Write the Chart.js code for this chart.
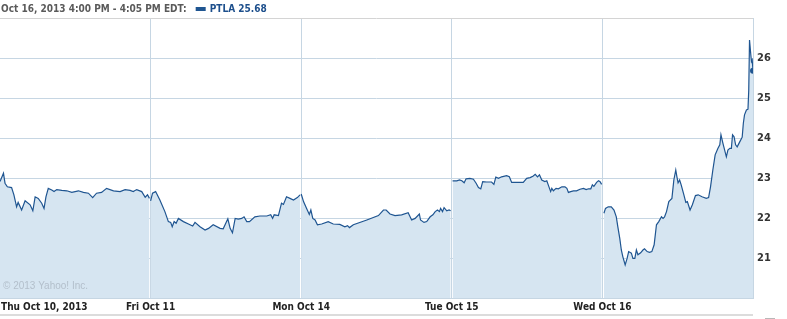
<!DOCTYPE html>
<html>
<head>
<meta charset="utf-8">
<script src="https://cdn.jsdelivr.net/npm/chart.js@4"></script>
<style>
  body { margin: 0; background: #fff; }
  canvas { display: block; }
</style>
</head>
<body>
<canvas id="quoteChart" width="787" height="319"></canvas>
<script>
// Day labels along the bottom, one trading session each (9:30 - 16:00 = 390 min)
const dayLabels = ['Thu Oct 10, 2013', 'Fri Oct 11', 'Mon Oct 14', 'Tue Oct 15', 'Wed Oct 16'];
const minutesPerDay = 390;
const yTicks = [21, 22, 23, 24, 25, 26];

// minutes since open, price
const thuMin = [0, 9, 13, 19, 30, 36, 43, 47, 56, 65, 78, 85, 91, 99, 108, 114, 119, 125, 134, 140,
  147, 160, 173, 186, 203, 216, 229, 240, 250, 263, 276, 294, 311, 324, 337, 345, 354, 367, 376, 382, 387];
const thuPrice = [22.91, 23.12, 22.87, 22.78, 22.76, 22.58, 22.28, 22.39, 22.2, 22.43, 22.33, 22.18, 22.53, 22.49, 22.37, 22.24, 22.53, 22.74, 22.7, 22.66,
  22.71, 22.69, 22.68, 22.64, 22.68, 22.64, 22.62, 22.51, 22.62, 22.64, 22.74, 22.68, 22.66, 22.71, 22.69, 22.66, 22.71, 22.66, 22.52, 22.58, 22.49];

const friMin = [0, 5, 13, 24, 37, 46, 52, 56, 61, 66, 72, 85, 98, 109, 115, 128, 141, 150, 162, 180,
  188, 200, 206, 212, 219, 227, 236, 242, 249, 256, 270, 283, 301, 311, 316, 320, 331, 339, 344, 352, 361, 370, 380, 387];
const friPrice = [22.43, 22.62, 22.66, 22.45, 22.16, 21.91, 21.89, 21.78, 21.91, 21.87, 21.99, 21.91, 21.85, 21.8, 21.89, 21.78, 21.7, 21.74, 21.83, 21.74,
  21.73, 21.98, 21.74, 21.63, 21.99, 21.97, 21.99, 22.03, 21.91, 21.91, 22.03, 22.05, 22.05, 22.08, 21.99, 22.08, 22.06, 22.37, 22.34, 22.53, 22.49, 22.45, 22.51, 22.58];

const monMin = [0, 6, 14, 21, 25, 30, 36, 42, 53, 70, 83, 100, 113, 120, 125, 135, 170, 200, 213, 220,
  230, 243, 260, 277, 286, 295, 306, 309, 318, 325, 334, 341, 347, 353, 358, 361, 366, 370, 377, 383, 387];
const monPrice = [22.6, 22.41, 22.24, 22.09, 22.2, 21.99, 21.95, 21.83, 21.85, 21.91, 21.85, 21.84, 21.78, 21.81, 21.76, 21.83, 21.95, 22.06, 22.2, 22.2,
  22.1, 22.06, 22.08, 22.13, 21.95, 21.99, 22.1, 21.95, 21.89, 21.91, 22.03, 22.08, 22.16, 22.2, 22.16, 22.24, 22.16, 22.26, 22.18, 22.2, 22.18];

const tueMin = [2, 13, 20, 26, 32, 37, 47, 56, 63, 69, 75, 80, 90, 103, 109, 114, 121, 129, 142, 149,
  155, 168, 185, 194, 203, 211, 216, 222, 227, 233, 241, 246, 253, 256, 259, 263, 270, 276, 285, 293,
  298, 302, 308, 315, 323, 332, 341, 348, 354, 360, 364, 368, 375, 380, 384, 388];
const tuePrice = [22.93, 22.93, 22.95, 22.93, 22.88, 22.98, 22.99, 22.97, 22.87, 22.76, 22.73, 22.91, 22.9, 22.9, 22.84, 23.02, 22.99, 23.03, 23.06, 23.03,
  22.89, 22.89, 22.89, 22.99, 23.01, 23.05, 23.09, 23.03, 23.08, 22.95, 22.91, 22.93, 22.74, 22.66, 22.74, 22.68, 22.74, 22.73, 22.78, 22.78,
  22.74, 22.64, 22.66, 22.68, 22.68, 22.72, 22.74, 22.71, 22.73, 22.73, 22.83, 22.79, 22.89, 22.93, 22.91, 22.84];

const wedMin = [4, 8, 15, 23, 30, 36, 40, 45, 49, 53, 59, 64, 68, 75, 79, 84, 88, 92, 99, 105,
  109, 116, 122, 128, 134, 140, 146, 153, 157, 161, 166, 172, 180, 185, 190, 193, 196, 200, 204, 211,
  216, 220, 227, 233, 241, 248, 258, 269, 275, 280, 286, 292, 299, 304, 307, 312, 321, 325, 330, 334,
  337, 341, 345, 349, 356, 362, 365, 368, 373, 377, 379, 381, 384, 386, 388, 390];
const wedPrice = [22.12, 22.24, 22.28, 22.28, 22.2, 22.03, 21.78, 21.49, 21.2, 21.03, 20.83, 20.99, 21.16, 21.12, 20.99, 20.99, 21.2, 21.08, 21.13, 21.2,
  21.23, 21.16, 21.14, 21.16, 21.33, 21.83, 21.91, 22.03, 21.99, 22.03, 22.16, 22.41, 22.49, 22.95, 23.2, 23.03, 22.88, 22.95, 22.83, 22.58,
  22.39, 22.41, 22.2, 22.33, 22.56, 22.58, 22.53, 22.49, 22.51, 22.78, 23.2, 23.58, 23.74, 23.83, 24.08, 23.87, 23.53, 23.7, 23.74, 23.74,
  24.08, 24.03, 23.83, 23.78, 23.91, 24.02, 24.37, 24.58, 24.7, 24.72, 25.2, 26.45, 26.12, 25.91, 25.95, 25.68];

const headerText = 'Oct 16, 2013 4:00 PM - 4:05 PM EDT:';
const legendText = 'PTLA 25.68';
const copyrightText = '\u00a9 2013 Yahoo! Inc.';

const lineColor = '#1f5591';
const fillColor = '#d6e5f1';
const gridColor = '#c6d6e3';
const labelFont = 'bold 10px "DejaVu Sans Condensed", "DejaVu Sans", sans-serif';

const sessions = [
  [thuMin, thuPrice],
  [friMin, friPrice],
  [monMin, monPrice],
  [tueMin, tuePrice],
  [wedMin, wedPrice]
];

const datasets = sessions.map(([mins, prices], d) => {
  const last = d === sessions.length - 1;
  return {
    data: mins.map((m, i) => ({ x: d * minutesPerDay + m, y: prices[i] })),
    borderColor: lineColor,
    backgroundColor: fillColor,
    borderWidth: 1.2,
    fill: 'start',
    tension: 0,
    pointRadius: ctx => (last && ctx.dataIndex === mins.length - 1) ? 3 : 0,
    pointBackgroundColor: lineColor,
    pointBorderWidth: 0
  };
});

// header, day labels, copyright and bottom rule
const decorations = {
  id: 'decorations',
  afterDraw(chart) {
    const ctx = chart.ctx;
    const area = chart.chartArea;
    const xScale = chart.scales.x;
    ctx.save();

    // header
    ctx.font = labelFont;
    ctx.textBaseline = 'middle';
    ctx.textAlign = 'left';
    ctx.fillStyle = '#5a5a5a';
    ctx.fillText(headerText, 1, 9);
    const w = ctx.measureText(headerText).width;
    ctx.fillStyle = lineColor;
    ctx.fillRect(w + 10, 7, 10, 4);
    ctx.fillStyle = '#1d4f8c';
    ctx.fillText(legendText, w + 24, 9);

    // day labels
    ctx.fillStyle = '#222';
    dayLabels.forEach((label, d) => {
      const px = xScale.getPixelForValue(d * minutesPerDay);
      ctx.textAlign = d === 0 ? 'left' : 'center';
      ctx.fillText(label, d === 0 ? px + 1 : px, area.bottom + 9);
    });

    // copyright
    ctx.font = '10px "Liberation Sans", Arial, sans-serif';
    ctx.textAlign = 'left';
    ctx.fillStyle = '#b3bfcb';
    ctx.fillText(copyrightText, 3, area.bottom - 12);

    // bottom rule
    ctx.fillStyle = '#dcdcdc';
    ctx.fillRect(0, area.bottom + 16, area.right, 2);
    ctx.fillStyle = '#b8b8b8';
    ctx.fillRect(area.right + 12, area.bottom + 20, 10, 1);
    ctx.restore();
  }
};

new Chart(document.getElementById('quoteChart').getContext('2d'), {
  type: 'line',
  data: { datasets: datasets },
  options: {
    responsive: false,
    animation: false,
    layout: { autoPadding: false, padding: { top: 18, left: 0, right: 0, bottom: 0 } },
    plugins: {
      legend: { display: false },
      tooltip: { enabled: false }
    },
    scales: {
      x: {
        type: 'linear',
        min: 0,
        max: dayLabels.length * minutesPerDay,
        afterBuildTicks: scale => {
          scale.ticks = dayLabels.map((_, d) => ({ value: d * minutesPerDay }))
            .concat([{ value: dayLabels.length * minutesPerDay }]);
        },
        afterFit: scale => { scale.height = 21; scale.paddingLeft = 0; scale.paddingRight = 0; },
        ticks: { display: false },
        grid: {
          color: ctx => ctx.index === 0 ? 'rgba(0,0,0,0)' : gridColor,
          drawTicks: false,
          lineWidth: 1
        },
        border: { display: true, color: gridColor }
      },
      y: {
        position: 'right',
        min: 20,
        max: 27,
        afterBuildTicks: scale => {
          scale.ticks = [20].concat(yTicks, [27]).map(v => ({ value: v }));
        },
        afterFit: scale => { scale.width = 34; },
        ticks: {
          padding: 4,
          color: '#333',
          font: { family: '"DejaVu Sans Condensed", "DejaVu Sans", sans-serif', size: 11, weight: 'bold' },
          callback: v => yTicks.includes(v) ? String(v) : ''
        },
        grid: {
          color: ctx => ctx.tick && ctx.tick.value === 27 ? '#d4d4d4' : gridColor,
          drawTicks: false
        },
        border: { display: true, color: gridColor }
      }
    }
  },
  plugins: [decorations]
});
</script>
</body>
</html>
